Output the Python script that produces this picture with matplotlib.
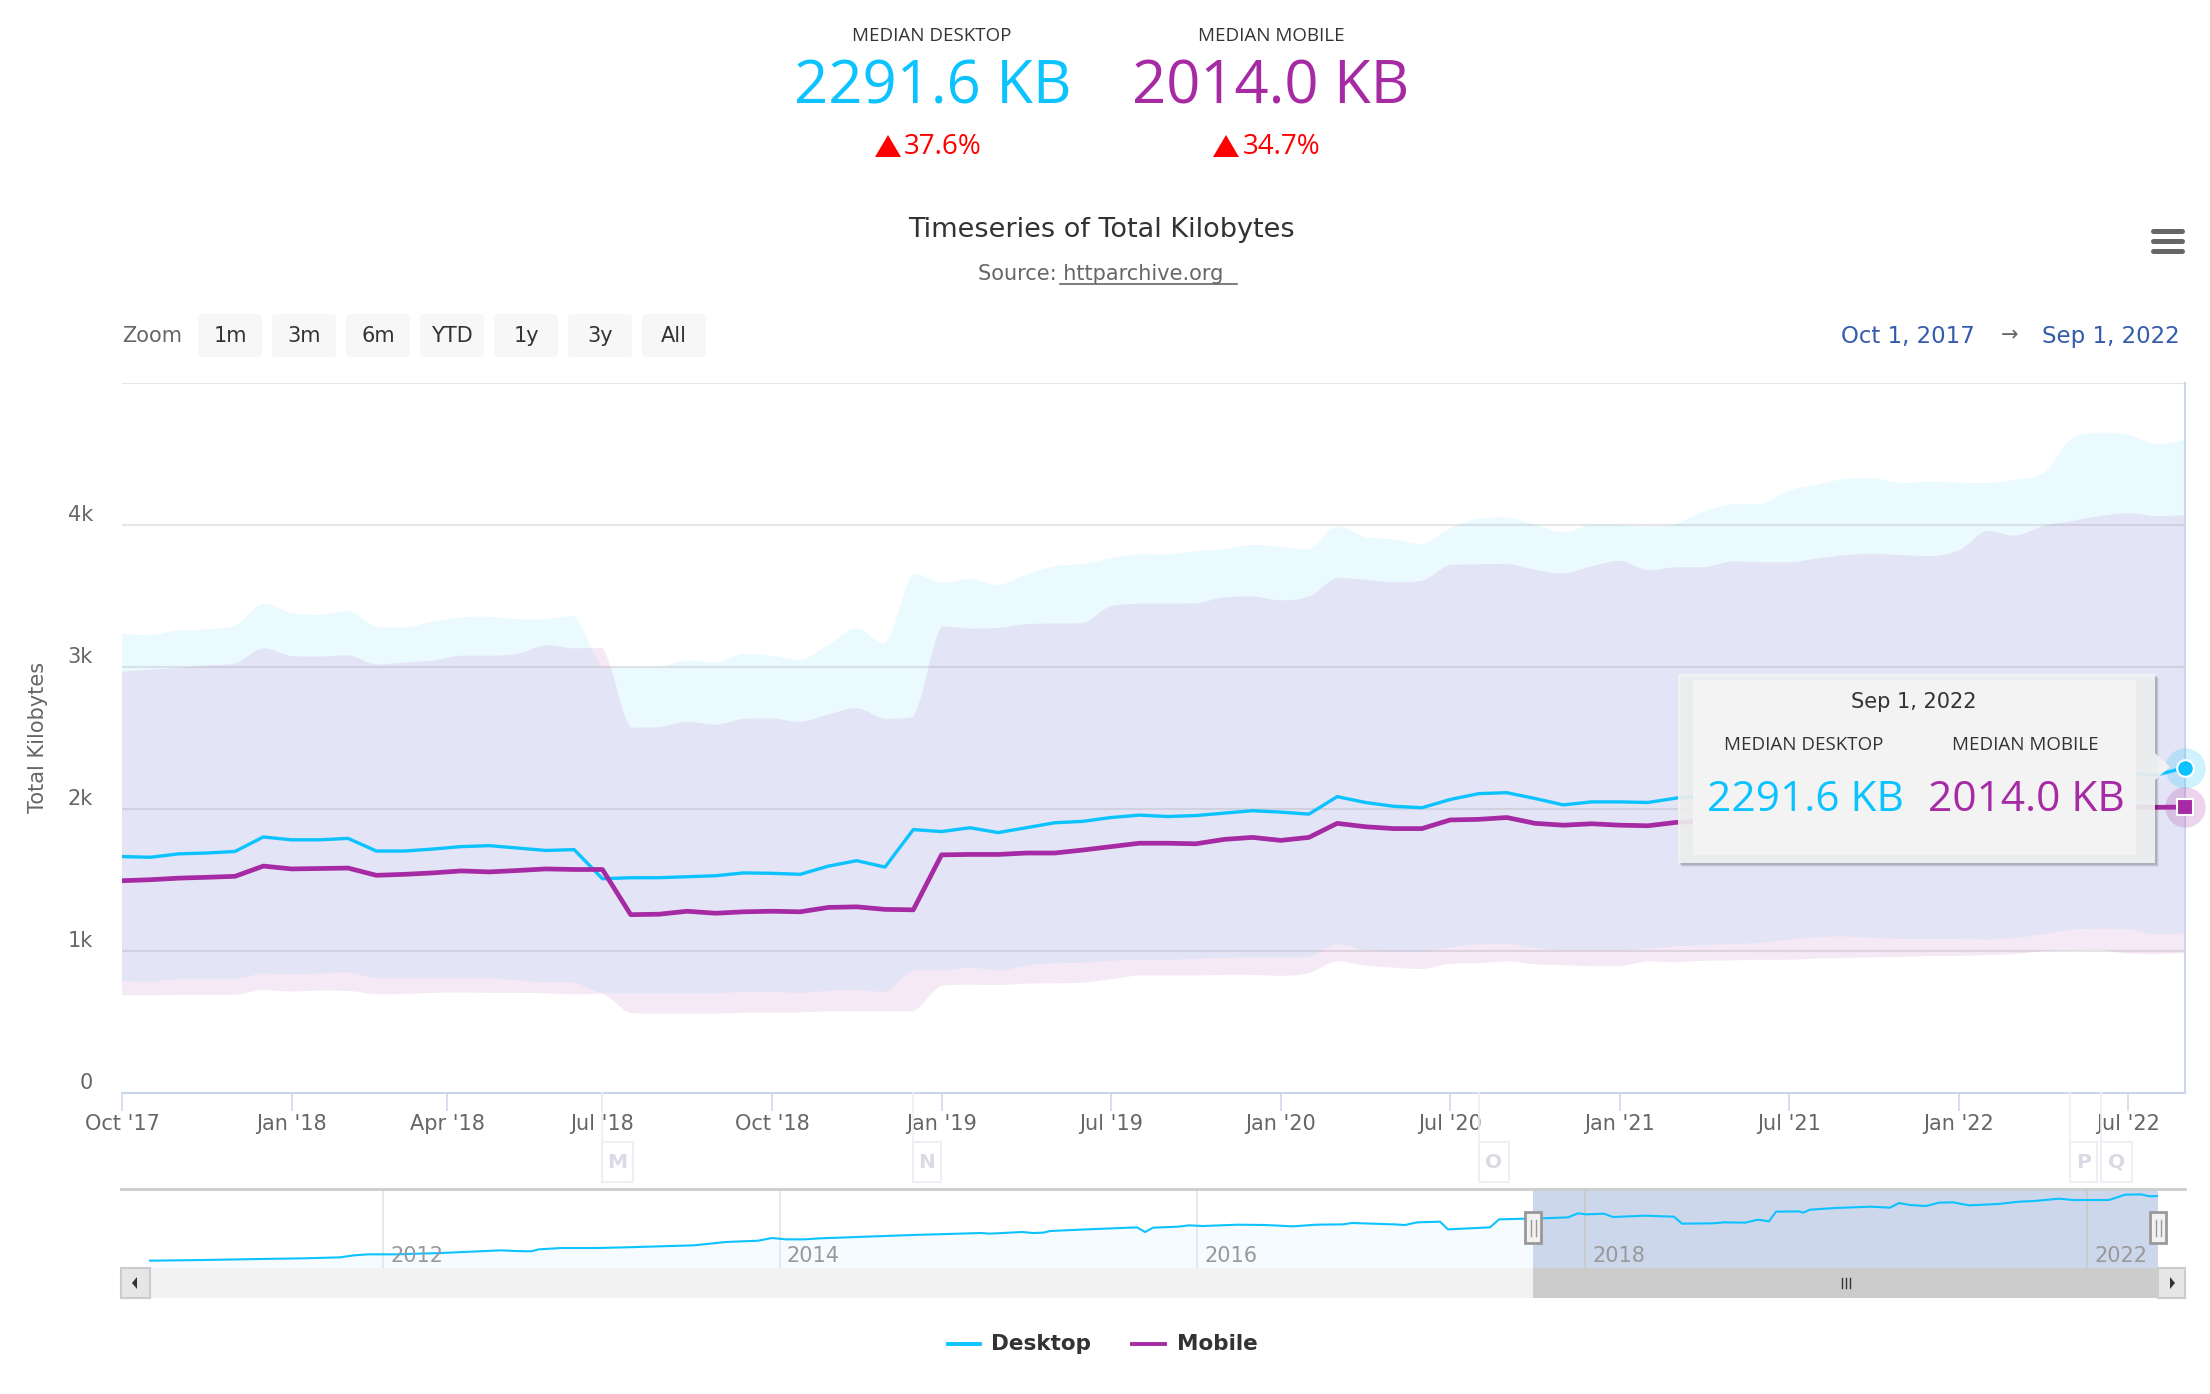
import numpy as np
import matplotlib
matplotlib.use("Agg")
import matplotlib.pyplot as plt
from matplotlib.path import Path
from matplotlib.patches import PathPatch, Rectangle, FancyBboxPatch, Polygon

# monthly / biweekly samples on an ordinal axis, Oct 2017 -> Sep 2022 (KB)
desktop_median = [1665, 1660, 1684, 1690, 1701, 1803, 1783, 1783, 1793, 1704, 1704, 1718, 1735, 1742, 1725, 1708, 1714,
                  1509, 1516, 1516, 1523, 1530, 1550, 1547, 1540, 1598, 1636, 1591, 1855, 1841, 1868, 1834, 1868, 1903, 1913,
                  1940, 1957, 1947, 1954, 1971, 1988, 1978, 1964, 2087, 2046, 2019, 2009, 2067, 2108, 2115, 2074, 2029, 2050,
                  2050, 2046, 2077, 2095, 2110, 2125, 2150, 2165, 2175, 2170, 2160, 2165, 2170, 2165, 2175, 2190, 2230, 2255,
                  2250, 2240, 2291.6]
mobile_median = [1495, 1502, 1513, 1519, 1526, 1598, 1578, 1581, 1584, 1533, 1540, 1550, 1564, 1557, 1567, 1578, 1574, 1574,
                 1256, 1259, 1280, 1266, 1276, 1280, 1276, 1307, 1311, 1293, 1290, 1677, 1680, 1680, 1690, 1690, 1711,
                 1735, 1759, 1759, 1755, 1786, 1800, 1779, 1800, 1899, 1875, 1862, 1862, 1923, 1927, 1940, 1899, 1886, 1896,
                 1886, 1882, 1906, 1915, 1920, 1915, 1925, 1935, 1940, 1945, 1940, 1935, 1945, 1950, 1960, 1975, 1995, 2010,
                 2015, 2012, 2014.0]
desktop_high = [3234, 3224, 3258, 3265, 3292, 3446, 3381, 3367, 3395, 3285, 3278, 3319, 3350, 3354, 3336, 3336, 3360,
                3001, 3001, 3001, 3046, 3032, 3093, 3080, 3049, 3155, 3271, 3165, 3655, 3593, 3620, 3579, 3651, 3709, 3727,
                3764, 3795, 3792, 3816, 3829, 3860, 3846, 3826, 3990, 3915, 3898, 3867, 3976, 4045, 4052, 4004, 3949, 4004,
                4000, 3990, 4011, 4096, 4147, 4147, 4243, 4284, 4325, 4329, 4295, 4305, 4298, 4295, 4319, 4366, 4609, 4650,
                4633, 4568, 4599]
desktop_low = [790, 784, 801, 801, 801, 842, 835, 842, 849, 808, 808, 808, 808, 808, 794, 780, 777,
               705, 702, 702, 702, 702, 712, 712, 705, 719, 725, 712, 862, 862, 883, 862, 897, 914, 917,
               931, 938, 938, 944, 951, 955, 955, 958, 1047, 1006, 999, 996, 1027, 1047, 1051, 1020, 1006, 1006,
               1006, 1016, 1033, 1040, 1051, 1057, 1081, 1098, 1102, 1092, 1085, 1085, 1085, 1081, 1092, 1119, 1150, 1157,
               1153, 1116, 1126]
mobile_high = [2967, 2981, 2994, 3011, 3025, 3131, 3076, 3073, 3083, 3018, 3032, 3046, 3080, 3080, 3093, 3152, 3131, 3135,
               2573, 2577, 2614, 2594, 2635, 2638, 2614, 2666, 2710, 2635, 2649, 3285, 3271, 3275, 3302, 3306, 3309,
               3429, 3446, 3446, 3449, 3490, 3497, 3470, 3497, 3627, 3614, 3597, 3607, 3720, 3723, 3727, 3685, 3658, 3709,
               3747, 3682, 3703, 3703, 3744, 3737, 3737, 3764, 3788, 3795, 3788, 3781, 3822, 3959, 3925, 3993, 4028, 4062,
               4082, 4062, 4069]
mobile_low = [688, 688, 691, 691, 691, 725, 715, 722, 719, 695, 698, 705, 708, 705, 705, 702, 695, 698,
              561, 558, 558, 558, 565, 565, 568, 575, 575, 575, 575, 756, 763, 760, 770, 773, 777,
              801, 828, 828, 828, 832, 832, 825, 845, 927, 897, 883, 873, 910, 914, 927, 907, 900, 893,
              893, 927, 921, 931, 934, 938, 938, 948, 951, 955, 958, 965, 965, 972, 979, 999, 1003, 1006,
              982, 979, 986]

tick_pos = [0, 6, 11.5, 17, 23, 29, 35, 41, 47, 53, 59, 65, 71]
tick_labels = ["Oct '17", "Jan '18", "Apr '18", "Jul '18", "Oct '18", "Jan '19", "Jul '19",
               "Jan '20", "Jul '20", "Jan '21", "Jul '21", "Jan '22", "Jul '22"]
y_ticks = [0, 1000, 2000, 3000, 4000, 5000]
y_labels = ["0", "1k", "2k", "3k", "4k", ""]

# navigator series, whole history (position along the ordinal strip, KB)
nav_pos = [150, 203, 258, 304, 340, 354, 368, 395, 441, 501, 515, 531, 539, 561, 597, 625, 694, 726, 758, 772, 786, 804,
           820, 866, 912, 981, 990, 1022, 1033, 1043, 1050, 1095, 1137, 1145, 1153, 1178, 1189, 1203, 1238, 1265, 1293,
           1316, 1343, 1352, 1394, 1405, 1417, 1440, 1448, 1490, 1499, 1525, 1533, 1568, 1578, 1586, 1604, 1613, 1645,
           1674, 1682, 1713, 1724, 1745, 1758, 1769, 1776, 1799, 1803, 1810, 1835, 1871, 1890, 1899, 1910, 1926, 1939,
           1953, 1969, 1998, 2019, 2034, 2059, 2073, 2093, 2109, 2125, 2141, 2150, 2157]
nav_val = [505, 524, 551, 570, 597, 653, 680, 680, 717, 791, 772, 763, 818, 855, 855, 873, 929, 1021, 1057, 1131, 1094, 1094,
           1122, 1168, 1214, 1269, 1251, 1297, 1269, 1278, 1324, 1379, 1425, 1297, 1416, 1444, 1481, 1462, 1499, 1490, 1453,
           1499, 1508, 1545, 1508, 1490, 1563, 1582, 1370, 1425, 1646, 1665, 1665, 1701, 1812, 1784, 1803, 1711, 1747,
           1720, 1527, 1536, 1563, 1554, 1637, 1591, 1858, 1867, 1830, 1913, 1959, 1996, 1968, 2097, 2042, 2014, 2106,
           2115, 2033, 2069, 2134, 2152, 2217, 2180, 2180, 2180, 2327, 2336, 2281, 2290]
nav_tick_pos = [383, 780, 1197, 1585, 2087]
nav_tick_labels = ["2012", "2014", "2016", "2018", "2022"]

flag_letters = ["M", "N", "O", "P", "Q"]
zoom_buttons = ["1m", "3m", "6m", "YTD", "1y", "3y", "All"]

DESKTOP = "#0cc3ff"
MOBILE = "#a62aa4"
W, H = 2210, 1394
OPEN = ["Open Sans", "DejaVu Sans"]


def px_axes(fig, left, top, right, bottom):
    return fig.add_axes([left / W, 1 - bottom / H, (right - left) / W, (bottom - top) / H])


def spline(xs, ys):
    # same idea as highcharts spline: tangents from neighbours, controls clamped
    ys = np.asarray(ys, dtype=float)
    m = np.gradient(ys)
    verts = [(xs[0], ys[0])]
    for i in range(len(xs) - 1):
        lo, hi = min(ys[i], ys[i + 1]), max(ys[i], ys[i + 1])
        verts.append((xs[i] + 0.4, np.clip(ys[i] + 0.4 * m[i], lo, hi)))
        verts.append((xs[i + 1] - 0.4, np.clip(ys[i + 1] - 0.4 * m[i + 1], lo, hi)))
        verts.append((xs[i + 1], ys[i + 1]))
    return verts


def band(ax, xs, high, low, color, alpha):
    up = spline(xs, high)
    down = spline(xs, low)[::-1]
    n = (len(up) - 1)
    verts = up + down + [up[0]]
    codes = [Path.MOVETO] + [Path.CURVE4] * n + [Path.LINETO] + [Path.CURVE4] * n + [Path.CLOSEPOLY]
    ax.add_patch(PathPatch(Path(verts, codes), facecolor=color, edgecolor="none", alpha=alpha, zorder=2))


fig = plt.figure(figsize=(W / 100, H / 100), dpi=100, facecolor="white")
plt.rcParams["font.family"] = ["DejaVu Sans"]

# main chart
ax = px_axes(fig, 122, 383, 2185, 1093)
x = np.arange(len(desktop_median))
for g in y_ticks[1:]:
    ax.axhline(g, color="#e6e6e6", lw=1.5, zorder=1)
band(ax, x, desktop_high, desktop_low, DESKTOP, 0.08)
band(ax, x, mobile_high, mobile_low, MOBILE, 0.10)
ax.plot(x, desktop_median, color=DESKTOP, lw=2.4, zorder=3, solid_joinstyle="round")
ax.plot(x, mobile_median, color=MOBILE, lw=3.4, zorder=4, solid_joinstyle="round")

# hover markers on the last point
ax.plot(x[-1], desktop_median[-1], "o", ms=29, color=DESKTOP, alpha=0.2, mew=0, clip_on=False, zorder=5)
ax.plot(x[-1], mobile_median[-1], "o", ms=29, color=MOBILE, alpha=0.2, mew=0, clip_on=False, zorder=5)
ax.plot(x[-1], desktop_median[-1], "o", ms=12, color=DESKTOP, mec="white", mew=1.5, clip_on=False, zorder=6)
ax.plot(x[-1], mobile_median[-1], "s", ms=12, color=MOBILE, mec="white", mew=1.5, clip_on=False, zorder=6)

ax.set_xlim(0, x[-1])
ax.set_ylim(0, 5000)
ax.set_xticks(tick_pos, tick_labels)
ax.set_yticks(y_ticks, y_labels)
ax.tick_params(axis="x", length=13, width=1.1, color="#ccd6eb", labelcolor="#666666", labelsize=15, pad=2)
ax.tick_params(axis="y", length=0, labelcolor="#666666", labelsize=15, pad=21)
for lab in ax.get_yticklabels():
    lab.set_verticalalignment("bottom")
for name in ["top", "left"]:
    ax.spines[name].set_visible(False)
for name in ["bottom", "right"]:
    ax.spines[name].set_color("#ccd6eb")
    ax.spines[name].set_linewidth(1.5)

# navigator
nav = px_axes(fig, 121, 1189, 2185, 1268)
nav.set_xlim(121, 2185)
nav.set_ylim(303, 2484)
nav.axis("off")
nav.fill_between(nav_pos, nav_val, 303, color="#f5fbff", lw=0, zorder=1)
nav.axvspan(1533, 2158, color="#ccd7ec", lw=0, zorder=2)
for p in nav_tick_pos:
    nav.axvline(p, color="#c9c9c9" if p > 1533 else "#e6e6e6", lw=1.3, zorder=3)
nav.plot(nav_pos, nav_val, color=DESKTOP, lw=1.5, zorder=4)
for p, lab in zip(nav_tick_pos, nav_tick_labels):
    nav.text(p + 7, 0.08, lab, transform=nav.get_xaxis_transform(), color="#999999", fontsize=15, zorder=5)

# everything else (page text, tooltip, buttons) in pixel coordinates
ov = fig.add_axes([0, 0, 1, 1], zorder=10)
ov.set_xlim(0, W)
ov.set_ylim(H, 0)
ov.axis("off")
ov.patch.set_alpha(0)


def label(px, py, s, size=15, color="#333333", ha="center", **kw):
    return ov.text(px, py, s, fontsize=size, color=color, ha=ha, va="center", **kw)


def rect(px, py, w, h, **kw):
    ov.add_patch(Rectangle((px, py), w, h, **kw))


# headline numbers
label(932, 36, "MEDIAN DESKTOP", 13.5, family=OPEN)
label(1271, 36, "MEDIAN MOBILE", 13.5, family=OPEN)
label(933, 88, "2291.6 KB", 43, DESKTOP, family=OPEN)
label(1271, 88, "2014.0 KB", 43, MOBILE, family=OPEN)
ov.add_patch(Polygon([(875, 157), (901, 157), (888, 135)], color="#ff0000", lw=0))
ov.add_patch(Polygon([(1213, 157), (1239, 157), (1226, 135)], color="#ff0000", lw=0))
label(904, 147, "37.6%", 20, "#ff0000", ha="left", family=OPEN)
label(1243, 147, "34.7%", 20, "#ff0000", ha="left", family=OPEN)

label(1101, 230, "Timeseries of Total Kilobytes", 19.5)
label(1101, 274, "Source: httparchive.org", 15, "#666666")
ov.plot([1060, 1237], [284, 284], color="#666666", lw=1.2)

# menu icon
for hy in [231, 241, 251]:
    ov.plot([2153, 2182], [hy, hy], color="#666666", lw=3.6, solid_capstyle="round")

# range selector
label(122, 336, "Zoom", 15, "#666666", ha="left")
for i, b in enumerate(zoom_buttons):
    bx = 198 + i * 74
    ov.add_patch(FancyBboxPatch((bx + 4, 318), 56, 35, boxstyle="round,pad=4", fc="#f7f7f7", ec="none"))
    label(bx + 32, 336, b, 15)
label(1841, 336, "Oct 1, 2017", 16.5, "#335cad", ha="left")
label(2010, 335, "→", 15, "#666666")
label(2180, 336, "Sep 1, 2022", 16.5, "#335cad", ha="right")

label(38, 737, "Total Kilobytes", 15, "#666666", rotation=90)

# flags
flag_x = [(602, 633), (913, 941), (1479, 1509), (2070, 2097), (2101, 2132)]
for (x0, x1), s in zip(flag_x, flag_letters):
    ov.plot([x0, x0], [1093, 1142], color="#eeeef4", lw=1.2)
    rect(x0, 1142, x1 - x0, 40, fc="white", ec="#eeeef4", lw=1.5)
    label((x0 + x1) / 2, 1162, s, 14.5, "#dcd9e6", fontweight="bold")

# navigator frame and scrollbar
ov.plot([121, 2185], [1189, 1189], color="#cccccc", lw=2)
rect(121, 1268, 2064, 30, fc="#f2f2f2", ec="none")
rect(1533, 1268, 625, 30, fc="#cccccc", ec="none")
rect(121, 1268, 29, 30, fc="#e6e6e6", ec="#cccccc", lw=1.5)
rect(2158, 1268, 27, 30, fc="#e6e6e6", ec="#cccccc", lw=1.5)
ov.add_patch(Polygon([(137, 1277), (137, 1289), (132, 1283)], color="#333333", lw=0))
ov.add_patch(Polygon([(2170, 1277), (2170, 1289), (2175, 1283)], color="#333333", lw=0))
for sx in [1842, 1846, 1850]:
    ov.plot([sx, sx], [1278, 1288], color="#333333", lw=1)
for hx in [1533, 2158]:
    rect(hx - 8, 1212, 16, 31, fc="#f2f2f2", ec="#999999", lw=2)
    for sx in [hx - 2.5, hx + 2.5]:
        ov.plot([sx, sx], [1220, 1236], color="#999999", lw=1)

# legend
ov.plot([948, 980], [1344, 1344], color=DESKTOP, lw=2.8)
label(991, 1344, "Desktop", 15.5, ha="left", fontweight="bold")
ov.plot([1132, 1165], [1344, 1344], color=MOBILE, lw=2.8)
label(1177, 1344, "Mobile", 15.5, ha="left", fontweight="bold")

# tooltip
for off, a in [(4, 0.05), (3, 0.08), (2, 0.12)]:
    ov.add_patch(Rectangle((1678 + off, 674 + off), 477, 189, fc="black", ec="none", alpha=a))
rect(1678, 674, 477, 189, fc="#f3f3f3", ec="none", alpha=0.9)
ov.add_patch(Polygon([(2155, 753), (2170, 767), (2155, 780)], fc="#f3f3f3", ec="none", alpha=0.9))
rect(1693, 680, 443, 175, fc="#f3f3f3", ec="none")
label(1914, 702, "Sep 1, 2022", 15)
label(1804, 745, "MEDIAN DESKTOP", 13.5, family=OPEN)
label(2025, 745, "MEDIAN MOBILE", 13.5, family=OPEN)
label(1805, 800, "2291.6 KB", 30.5, DESKTOP, family=OPEN)
label(2026, 800, "2014.0 KB", 30.5, MOBILE, family=OPEN)

fig.savefig("out.png", dpi=100)
